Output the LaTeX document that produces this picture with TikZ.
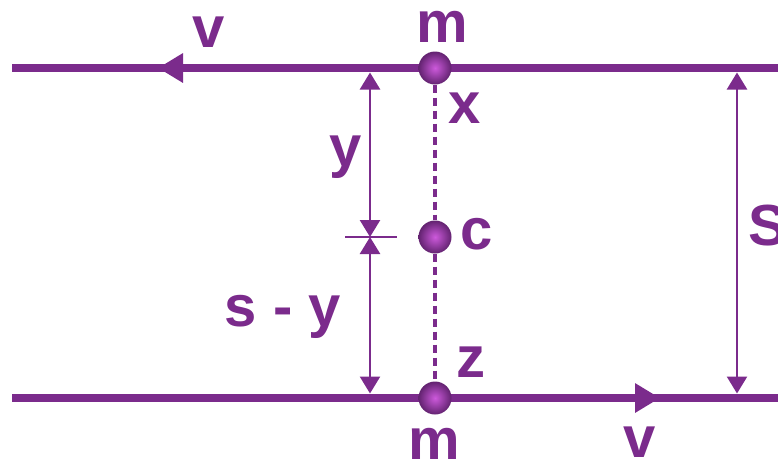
\documentclass[tikz,border=0pt]{standalone}
\usepackage{fontspec}
\setmainfont{Liberation Sans}
\usetikzlibrary{arrows.meta}

\definecolor{purp}{RGB}{123,43,140}
\definecolor{purphi}{RGB}{205,90,220}

\begin{document}
\begin{tikzpicture}[x=1pt, y=-1pt,
    lbl/.style={purp, font=\fontsize{58}{60}\selectfont\bfseries, anchor=base, inner sep=0},
    ball/.style={circle, minimum size=33pt, inner sep=0, inner color=purphi, outer color=purp!80!black},
    rail/.style={purp, line width=8pt},
    vel/.style={purp, line width=8pt, -{Triangle[length=25pt,width=28pt]}},
    dimline/.style={purp, line width=2.5pt, {Triangle[length=17pt,width=20pt]}-{Triangle[length=17pt,width=20pt]}},
    joint/.style={purp, line width=4pt, dash pattern=on 8pt off 5pt}]
    \useasboundingbox (0,0) rectangle (778,464);

    \coordinate (tl) at (12,68);
    \coordinate (tr) at (778,68);
    \coordinate (bl) at (12,398);
    \coordinate (br) at (778,398);
    \coordinate (ta) at (188,68);
    \coordinate (tt) at (158,68);
    \coordinate (ba) at (632,398);
    \coordinate (bt) at (660,398);

    % the two tracks
    \draw[rail] (tl) -- (tr);
    \draw[rail] (bl) -- (br);
    \draw[vel] (ta) -- (tt);
    \draw[vel] (ba) -- (bt);

    % masses and centre
    \node (mt) [ball] at (435,68) {};
    \node (cc) [ball] at (435,237) {};
    \node (mb) [ball] at (435,398) {};
    \draw[joint] (mt.south) -- (cc.north);
    \draw[joint] (cc.south) -- (mb.north);

    % distances
    \coordinate (yt) at (370,72.5);
    \coordinate (ym) at (370,237);
    \coordinate (yb) at (370,393.5);
    \coordinate (kl) at (345,237);
    \coordinate (kr) at (397,237);
    \coordinate (st) at (737,72.5);
    \coordinate (sb) at (737,393.5);
    \draw[dimline] (yt) -- (ym);
    \draw[dimline] (ym) -- (yb);
    \draw[purp, line width=2.5pt] (kl) -- (kr);
    \draw[dimline] (st) -- (sb);

    \node (vtop) [lbl] at (209,47) {v};
    \node (mtop) [lbl] at (442,42) {m};
    \node (xl) [lbl] at (465,123) {x};
    \node (yl) [lbl] at (346,166) {y};
    \node (cl) [lbl] at (477,249) {c};
    \node (syl) [lbl] at (283,326) {s - y};
    \node (zl) [lbl] at (471,377) {z};
    \node (mbot) [lbl] at (434,459) {m};
    \node (vbot) [lbl] at (640,457) {v};
    \node (sl) [lbl] at (768,245) {S};
\end{tikzpicture}
\end{document}
